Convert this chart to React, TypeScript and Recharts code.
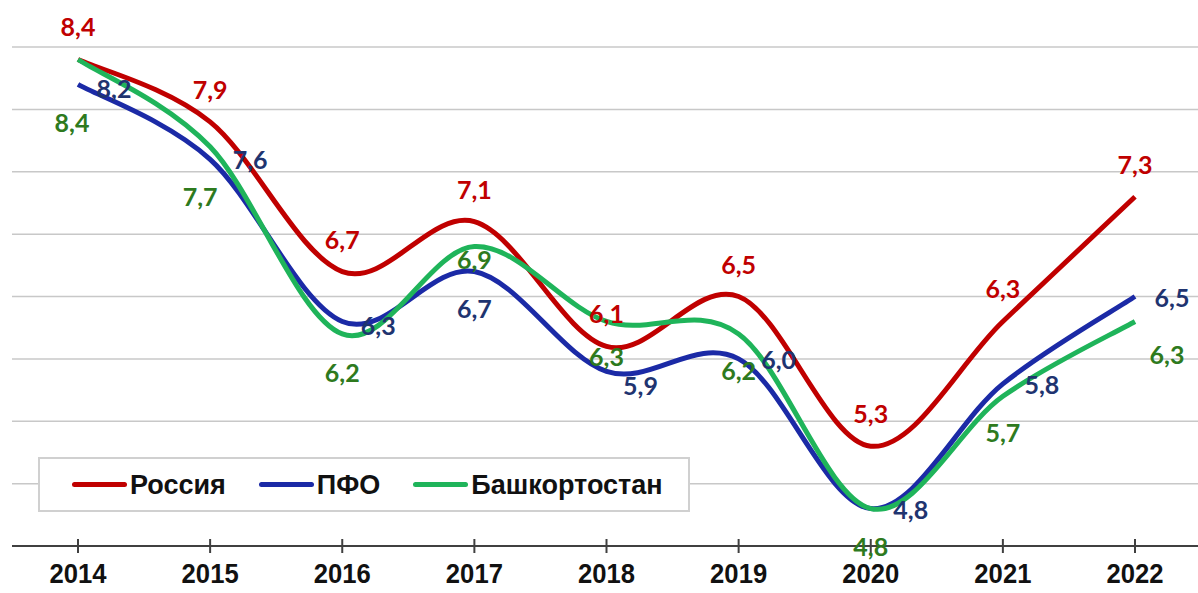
import { LineChart, Line, XAxis, YAxis, CartesianGrid, LabelList } from "recharts";

const years = ["2014", "2015", "2016", "2017", "2018", "2019", "2020", "2021", "2022"];
const russia = [8.4, 7.9, 6.7, 7.1, 6.1, 6.5, 5.3, 6.3, 7.3];
const pfo = [8.2, 7.6, 6.3, 6.7, 5.9, 6.0, 4.8, 5.8, 6.5];
const bashkortostan = [8.4, 7.7, 6.2, 6.9, 6.3, 6.2, 4.8, 5.7, 6.3];
const yTicks = [4.5, 5, 5.5, 6, 6.5, 7, 7.5, 8, 8.5];

const data = years.map((year, i) => ({
  year,
  russia: russia[i],
  pfo: pfo[i],
  bash: bashkortostan[i],
}));

// label offsets (dx, dy) per point, as placed in the original
const russiaOff = years.map(() => [0, -33]);
const pfoOff = [[36, 4], [40, 0], [36, 4], [0, 36], [34, 14], [40, 0], [40, 0], [39, 0], [37, 0]];
const bashOff = [[-6, 63], [-10, 49], [0, 38], [0, 12], [0, 35], [0, 36], [0, 37], [0, 36], [32, 33]];

const RED = "#C00000";
const BLUE = "#1B2AA6";
const GREEN = "#1FB45A";

const labelFont = "Lato, 'Open Sans', sans-serif";
const axisFont = "'Liberation Sans', Arial, sans-serif";

// Excel-like smoothed line (cardinal spline through the points)
function smoothCurve(context: any) {
  let pts: number[][] = [];
  return {
    areaStart() {},
    areaEnd() {},
    lineStart() {
      pts = [];
    },
    point(x: number, y: number) {
      pts.push([+x, +y]);
    },
    lineEnd() {
      if (!pts.length) return;
      context.moveTo(pts[0][0], pts[0][1]);
      for (let i = 0; i < pts.length - 1; i++) {
        const p0 = pts[i - 1] || pts[i];
        const p1 = pts[i];
        const p2 = pts[i + 1];
        const p3 = pts[i + 2] || pts[i + 1];
        context.bezierCurveTo(
          p1[0] + (p2[0] - p0[0]) / 6,
          p1[1] + (p2[1] - p0[1]) / 6,
          p2[0] - (p3[0] - p1[0]) / 6,
          p2[1] - (p3[1] - p1[1]) / 6,
          p2[0],
          p2[1]
        );
      }
    },
  };
}

const makeLabel = (color: string, off: number[][]) => (props: any) => {
  const { x, y, index, value } = props;
  const [dx, dy] = off[index] || [0, 0];
  return (
    <text
      x={x + dx}
      y={y + dy}
      textAnchor="middle"
      dominantBaseline="central"
      fill={color}
      fontFamily={labelFont}
      fontWeight={700}
      fontSize={25}
    >
      {Number(value).toFixed(1).replace(".", ",")}
    </text>
  );
};

const YearTick = (props: any) => {
  const { x, y, payload } = props;
  return (
    <g>
      <line x1={x} x2={x} y1={y - 7} y2={y + 7} stroke="#404040" strokeWidth={2} />
      <text
        transform={`translate(${x},${y + 37}) scale(0.95,1)`}
        textAnchor="middle"
        fill="#111"
        fontFamily={axisFont}
        fontWeight={700}
        fontSize={27}
      >
        {payload.value}
      </text>
    </g>
  );
};

const legendItems = [
  { name: "Россия", color: RED },
  { name: "ПФО", color: BLUE },
  { name: "Башкортостан", color: GREEN },
];

const LegendBox = () => (
  <div
    style={{
      position: "absolute",
      left: 38,
      top: 457,
      boxSizing: "border-box",
      width: 652,
      height: 55,
      background: "#fff",
      border: "2px solid #D0D0D0",
      display: "flex",
      alignItems: "center",
      paddingLeft: 32,
      gap: 33,
    }}
  >
    {legendItems.map((it) => (
      <div key={it.name} style={{ display: "flex", alignItems: "center" }}>
        <div style={{ width: 55, height: 5, borderRadius: 3, background: it.color, marginRight: 3 }} />
        <span style={{ fontFamily: axisFont, fontWeight: 700, fontSize: 27, color: "#111", lineHeight: "30px" }}>{it.name}</span>
      </div>
    ))}
  </div>
);

export default function App() {
  return (
    <div style={{ position: "absolute", left: 0, top: 0, width: 1198, height: 593, background: "#fff" }}>
      <LineChart width={1198} height={593} data={data} margin={{ top: 47, right: 0, left: 12, bottom: 0 }}>
        <CartesianGrid vertical={false} stroke="#C8C8C8" strokeWidth={1.5} />
        <XAxis
          dataKey="year"
          interval={0}
          height={47}
          padding={{ left: 66, right: 63 }}
          axisLine={{ stroke: "#404040", strokeWidth: 2 }}
          tickLine={false}
          tickSize={0}
          tickMargin={0}
          tick={<YearTick />}
        />
        <YAxis hide type="number" domain={[4.5, 8.5]} ticks={yTicks} />
        <Line type={smoothCurve as any} dataKey="russia" name="Россия" stroke={RED} strokeWidth={5} dot={false} activeDot={false} isAnimationActive={false} />
        <Line type={smoothCurve as any} dataKey="pfo" name="ПФО" stroke={BLUE} strokeWidth={5} dot={false} activeDot={false} isAnimationActive={false} />
        <Line type={smoothCurve as any} dataKey="bash" name="Башкортостан" stroke={GREEN} strokeWidth={5} dot={false} activeDot={false} isAnimationActive={false} />
        <Line dataKey="russia" stroke="none" legendType="none" dot={false} activeDot={false} isAnimationActive={false}>
          <LabelList dataKey="russia" content={makeLabel(RED, russiaOff)} />
        </Line>
        <Line dataKey="pfo" stroke="none" legendType="none" dot={false} activeDot={false} isAnimationActive={false}>
          <LabelList dataKey="pfo" content={makeLabel("#1F3470", pfoOff)} />
        </Line>
        <Line dataKey="bash" stroke="none" legendType="none" dot={false} activeDot={false} isAnimationActive={false}>
          <LabelList dataKey="bash" content={makeLabel("#2E7A1E", bashOff)} />
        </Line>
      </LineChart>
      <LegendBox />
    </div>
  );
}
